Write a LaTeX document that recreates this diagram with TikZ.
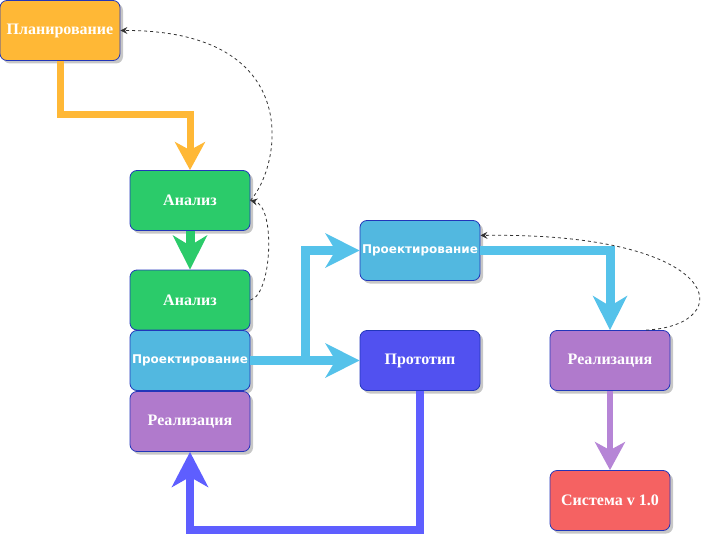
\documentclass[tikz,border=0pt]{standalone}
\usepackage{fontspec}
\setmainfont{Liberation Serif}
\newfontfamily\verdfont{DejaVu Sans}
\usetikzlibrary{arrows.meta,shadows}
\definecolor{planorange}{HTML}{FFB836}
\definecolor{anagreen}{HTML}{2BCB6A}
\definecolor{designblue}{HTML}{52B8E0}
\definecolor{designflow}{HTML}{55C2EA}
\definecolor{implpurple}{HTML}{B07ACC}
\definecolor{implflow}{HTML}{B685D6}
\definecolor{protoblue}{HTML}{5151F0}
\definecolor{protoflow}{HTML}{5E5EFF}
\definecolor{sysred}{HTML}{F56262}
\definecolor{frameblue}{HTML}{2236BA}
\begin{document}
\begin{tikzpicture}[x=1pt,y=-1pt,phase/.style={shape=rectangle,rounded corners=7pt,draw=frameblue,line width=0.8pt,minimum width=120pt,minimum height=60pt,inner sep=1pt,text=white,font=\fontsize{16}{19}\selectfont\bfseries,drop shadow={shadow xshift=3pt,shadow yshift=-3pt,fill=black,opacity=0.22}},design/.style={phase,fill=designblue,inner xsep=0pt,font=\verdfont\fontsize{12}{15}\selectfont\bfseries},flow/.style={line width=7pt,-{Stealth[length=28pt,width=30pt,inset=8pt]}},bigflow/.style={line width=9pt,-{Stealth[length=34pt,width=34pt,inset=10pt]}},feedback/.style={draw=black!80,line width=0.8pt,dash pattern=on 3pt off 3pt,-{Stealth[length=7pt,width=7pt,inset=2.5pt]}}]
\useasboundingbox (0,0) rectangle (701,543);
\node[phase,fill=planorange] (plan) at (60,30.5) {Планирование};
\node[phase,fill=anagreen] (ana1) at (190,200.5) {Анализ};
\node[phase,fill=anagreen] (ana2) at (190,300) {Анализ};
\node[design] (des1) at (190,360.5) {Проектирование};
\node[phase,fill=implpurple] (impl1) at (190,421.5) {Реализация};
\node[design] (des2) at (420,250.5) {Проектирование};
\node[phase,fill=protoblue] (proto) at (420,360.5) {Прототип};
\node[phase,fill=implpurple] (impl2) at (610,360.5) {Реализация};
\node[phase,fill=sysred] (sys) at (610,500.5) {Система v 1.0};
\draw[flow,draw=planorange] (plan.south) -- ++(0,54) -| (ana1.north);
\draw[bigflow,draw=anagreen] (ana1.south) -- (ana2.north);
\draw[bigflow,draw=designflow] (des1.east) -- (proto.west);
\draw[bigflow,draw=designflow] (des1.east) -- ++(55,0) |- (des2.west);
\draw[bigflow,draw=designflow] (des2.east) -| (impl2.north);
\draw[flow,line width=5.5pt,draw=implflow] (impl2.south) -- (sys.north);
\draw[bigflow,line width=8.5pt,-{Stealth[length=35pt,width=36pt,inset=10pt]},draw=protoflow] (proto.south) -- ++(0,139) -| (impl1.south);
\draw[feedback] (ana2.east) .. controls (272,295) and (276,206) .. (ana1.east);
\draw[feedback] (ana1.east) .. controls (282,165) and (305,30) .. (plan.east);
\draw[feedback] (impl2.40) .. controls (740,325) and (725,232) .. (des2.14);
\end{tikzpicture}
\end{document}
